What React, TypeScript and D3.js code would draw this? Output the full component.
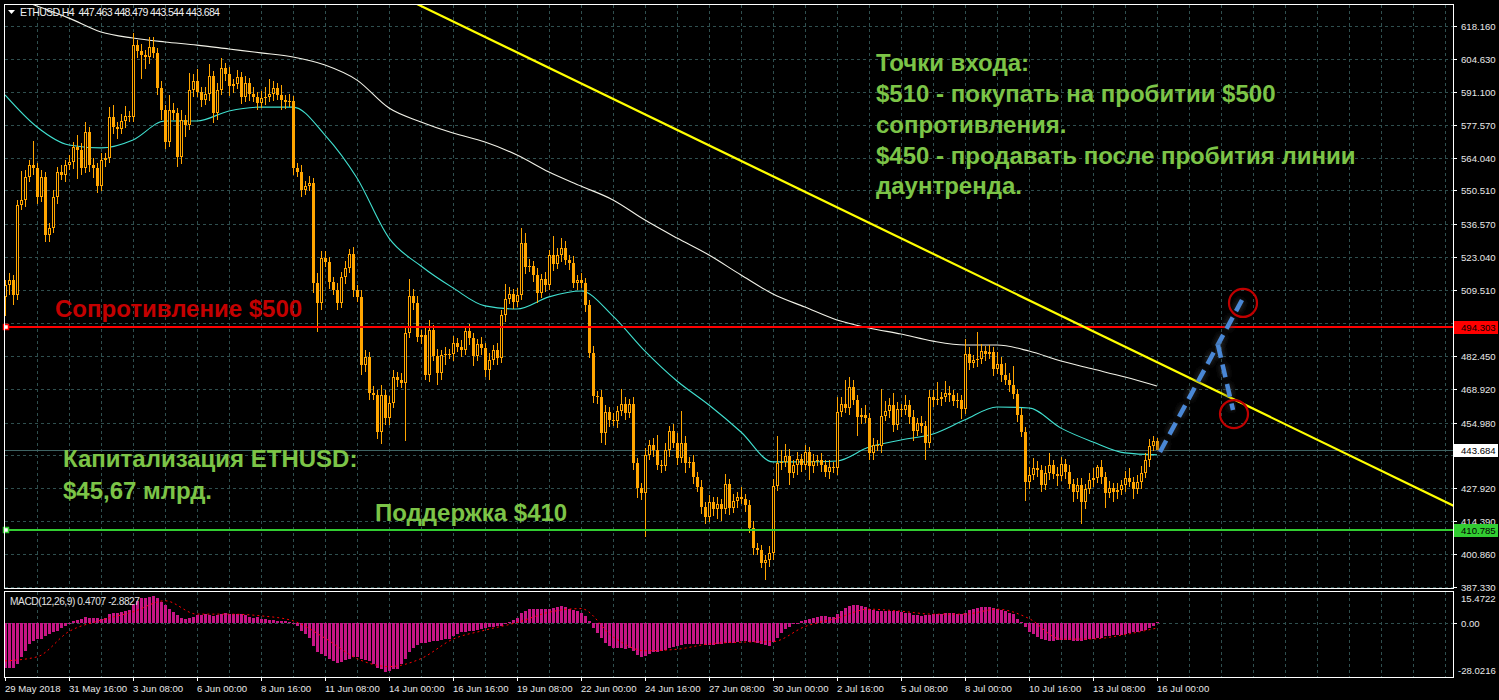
import React from "react";
import * as d3 from "d3";

const W = 1499;
const H = 700;

// ---------- DATA ----------
const firstOpen = 506.7;
const closes = [
  511.6, 513.7, 507.5, 544.5, 546.6, 556.0, 561.0, 559.7, 547.8, 556.0,
  532.2, 535.1, 547.8, 558.1, 556.9, 561.0, 562.2, 568.4, 567.1, 559.7,
  574.6, 561.0, 559.7, 552.3, 563.0, 563.9, 580.7, 576.6, 575.8, 579.1,
  581.1, 580.7, 610.3, 607.9, 606.2, 605.4, 609.5, 607.1, 592.6, 583.6,
  570.4, 583.6, 582.4, 564.3, 579.5, 577.4, 591.8, 595.5, 591.0, 587.7,
  590.2, 597.6, 582.4, 591.8, 600.9, 598.4, 593.5, 594.3, 597.2, 589.0,
  594.7, 590.2, 589.0, 586.5, 588.5, 589.0, 590.2, 592.6, 589.8, 587.7,
  586.9, 587.3, 559.7, 558.1, 550.7, 552.3, 553.6, 512.4, 504.2, 522.7,
  521.1, 512.8, 509.5, 504.2, 514.9, 518.6, 524.4, 509.5, 506.7, 478.7,
  482.0, 467.2, 466.3, 451.1, 466.3, 456.9, 463.1, 473.7, 472.5, 471.3,
  491.9, 507.1, 504.2, 490.2, 491.0, 474.6, 493.1, 482.4, 475.4, 482.8,
  483.2, 483.2, 487.7, 486.1, 484.9, 492.7, 489.8, 482.4, 487.3, 485.7,
  476.6, 480.7, 484.9, 481.6, 499.3, 505.8, 507.9, 504.6, 507.5, 528.9,
  519.0, 519.4, 515.7, 508.3, 514.1, 511.6, 523.9, 520.2, 523.9, 526.8,
  521.9, 520.6, 512.4, 513.7, 512.4, 503.4, 483.6, 465.9, 465.5, 450.7,
  459.4, 456.1, 455.7, 459.8, 462.7, 458.9, 462.7, 438.4, 428.1, 426.0,
  441.7, 445.8, 443.7, 437.6, 437.2, 443.7, 451.5, 446.6, 440.4, 446.6,
  438.4, 438.8, 432.6, 428.5, 420.3, 416.2, 422.3, 419.5, 421.5, 419.5,
  429.7, 419.9, 422.8, 424.4, 423.6, 421.1, 411.6, 403.4, 402.6, 397.2,
  398.5, 401.4, 428.9, 438.4, 438.8, 441.3, 434.3, 437.6, 440.0, 437.6,
  442.9, 437.2, 439.2, 439.6, 437.6, 434.7, 436.7, 436.3, 459.4, 462.7,
  461.0, 469.6, 464.3, 457.3, 458.1, 456.9, 442.5, 445.8, 445.4, 457.7,
  459.8, 462.2, 454.0, 460.6, 460.2, 462.2, 457.3, 451.5, 454.8, 453.6,
  446.6, 465.5, 464.3, 464.7, 465.5, 467.2, 466.3, 463.9, 464.3, 460.6,
  483.2, 479.5, 480.7, 481.2, 484.4, 483.2, 484.0, 477.0, 479.1, 474.6,
  472.5, 470.4, 466.8, 458.1, 451.1, 430.6, 433.5, 436.3, 435.5, 429.3,
  434.3, 437.6, 433.9, 433.0, 438.0, 434.7, 429.7, 426.5, 429.3, 422.3,
  427.7, 431.4, 432.2, 436.7, 432.6, 426.0, 428.1, 426.5, 427.3, 429.3,
  432.2, 430.6, 427.7, 430.6, 434.3, 439.6, 445.4, 447.463, 443.684,
];
const wickUp = [
  2, 3, 2, 2, 12, 3, 2, 10, 2, 3,
  2, 2, 3, 2, 3, 2, 3, 2, 5, 3,
  4, 2, 3, 2, 3, 2, 4, 5, 2, 3,
  4, 2, 5, 2, 3, 2, 4, 4, 2, 3,
  2, 6, 3, 2, 4, 2, 7, 3, 5, 2,
  3, 5, 2, 3, 4, 2, 3, 2, 3, 2,
  3, 2, 3, 2, 3, 4, 6, 3, 2, 4,
  2, 3, 2, 2, 3, 2, 3, 2, 4, 3,
  3, 2, 2, 3, 2, 3, 2, 3, 2, 3,
  3, 2, 3, 2, 4, 2, 3, 3, 2, 3,
  2, 7, 3, 3, 2, 3, 4, 2, 3, 2,
  3, 2, 3, 2, 3, 2, 3, 2, 2, 3,
  2, 3, 2, 3, 2, 6, 3, 2, 3, 6,
  4, 3, 2, 3, 2, 3, 2, 8, 3, 4,
  3, 2, 3, 2, 3, 2, 2, 3, 2, 3,
  3, 2, 3, 2, 6, 3, 2, 3, 2, 2,
  3, 2, 3, 6, 2, 3, 2, 3, 4, 13,
  3, 2, 3, 2, 3, 2, 3, 2, 3, 2,
  4, 2, 3, 2, 4, 2, 2, 3, 2, 2,
  2, 3, 3, 11, 5, 5, 3, 2, 3, 2,
  3, 2, 3, 2, 3, 2, 3, 2, 6, 3,
  10, 4, 3, 2, 3, 4, 2, 3, 2, 11,
  4, 3, 5, 3, 2, 4, 2, 3, 2, 3,
  2, 3, 3, 7, 2, 5, 3, 2, 3, 2,
  6, 3, 2, 11, 3, 2, 3, 2, 5, 3,
  5, 3, 8, 2, 3, 2, 3, 4, 3, 2,
  3, 5, 2, 3, 3, 2, 3, 2, 3, 3,
  2, 3, 4, 1, 3, 2, 3, 2, 3, 2,
  3, 4, 2, 3, 3, 3, 3, 2, 1.016,
];
const wickDn = [
  8, 4, 4, 2, 2, 3, 2, 3, 3, 2,
  3, 3, 2, 3, 2, 3, 2, 3, 12, 3,
  2, 3, 4, 3, 2, 3, 2, 3, 4, 2,
  3, 2, 2, 3, 10, 5, 3, 2, 3, 4,
  3, 2, 3, 4, 3, 5, 2, 3, 2, 3,
  2, 3, 4, 3, 2, 3, 4, 3, 2, 3,
  2, 3, 2, 3, 2, 3, 2, 3, 2, 4,
  3, 2, 3, 2, 3, 2, 2, 4, 12, 3,
  2, 3, 2, 3, 2, 3, 2, 3, 2, 4,
  3, 3, 2, 3, 5, 3, 3, 2, 3, 2,
  24, 2, 3, 2, 3, 2, 3, 2, 5, 3,
  4, 2, 3, 2, 3, 2, 3, 4, 2, 3,
  3, 4, 2, 3, 2, 3, 2, 3, 2, 2,
  3, 2, 3, 4, 2, 3, 2, 3, 2, 3,
  2, 3, 2, 3, 2, 3, 2, 3, 3, 4,
  5, 3, 2, 3, 2, 3, 2, 3, 4, 3,
  18, 2, 3, 2, 3, 2, 3, 2, 3, 2,
  4, 2, 3, 2, 3, 3, 2, 3, 4, 5,
  2, 3, 2, 3, 2, 3, 2, 3, 2, 2,
  7, 3, 3, 2, 3, 2, 5, 2, 4, 3,
  2, 6, 3, 2, 3, 2, 3, 2, 3, 2,
  2, 3, 2, 8, 3, 2, 3, 3, 2, 3,
  2, 3, 3, 2, 3, 2, 3, 4, 2, 3,
  7, 2, 3, 2, 3, 2, 3, 2, 3, 4,
  2, 3, 2, 3, 2, 3, 2, 3, 2, 3,
  2, 3, 2, 3, 2, 8, 3, 2, 3, 3,
  2, 3, 2, 4, 2, 3, 2, 4, 3, 9,
  3, 2, 3, 2, 3, 6, 2, 4, 3, 2,
  3, 2, 4, 2, 3, 2, 3, 2, 0.14,
];
const macdHist = [
  -23.9, -23.9, -23.9, -21.8, -18.3, -14.8, -11.4, -9.6, -8.7, -8.4,
  -7.0, -6.1, -5.2, -4.4, -3.1, -1.7, -0.5, 0.9, 1.4, 1.7,
  3.1, 2.6, 2.6, 2.6, 2.1, 2.6, 4.4, 4.9, 5.2, 5.6,
  6.1, 6.6, 9.6, 11.4, 12.6, 13.1, 13.6, 14.0, 12.6, 10.8,
  9.1, 7.3, 5.6, 3.8, 2.6, 2.1, 2.6, 3.1, 3.8, 3.8,
  4.4, 3.8, 3.5, 3.8, 4.4, 4.9, 4.4, 4.4, 4.4, 4.4,
  3.8, 3.1, 2.6, 3.1, 2.1, 1.7, 1.4, 1.4, 1.0, 0.9,
  0.7, 0.5, -0.3, -1.7, -4.4, -6.1, -7.9, -12.2, -15.7, -16.6,
  -17.5, -19.2, -20.1, -21.0, -20.6, -19.6, -18.9, -18.3, -18.3, -19.2,
  -19.6, -20.1, -21.8, -23.6, -24.5, -25.9, -25.3, -24.5, -24.1, -21.8,
  -19.2, -15.7, -13.6, -11.9, -10.8, -10.5, -10.1, -9.6, -9.6, -9.1,
  -8.7, -8.4, -7.0, -6.1, -5.2, -4.9, -4.5, -4.2, -3.8, -3.5,
  -3.1, -2.6, -2.1, -1.7, -1.7, -0.9, 0.3, 1.4, 2.6, 4.9,
  5.9, 7.0, 7.3, 7.3, 7.0, 7.0, 7.3, 7.5, 7.9, 8.4,
  8.0, 7.3, 6.6, 5.9, 5.2, 3.5, 1.0, -3.1, -5.6, -8.2,
  -10.5, -12.2, -13.3, -13.6, -13.6, -14.0, -13.3, -14.7, -16.8, -18.0,
  -17.5, -16.6, -15.7, -15.4, -14.8, -14.2, -13.5, -12.8, -12.2, -11.7,
  -11.4, -11.2, -11.0, -11.0, -11.4, -11.7, -11.9, -11.7, -11.4, -11.0,
  -10.8, -10.7, -10.5, -10.1, -9.8, -9.6, -10.0, -10.3, -10.7, -11.2,
  -11.9, -12.2, -10.1, -7.9, -5.6, -3.5, -2.1, -1.0, 0.0, 0.7,
  1.4, 2.1, 2.6, 3.1, 3.5, 3.3, 3.0, 3.1, 4.4, 5.9,
  7.5, 8.7, 9.1, 9.1, 8.7, 8.0, 7.3, 6.6, 6.1, 6.1,
  6.1, 5.9, 5.8, 5.8, 5.6, 5.2, 4.9, 4.2, 3.8, 3.5,
  3.7, 4.2, 4.5, 4.7, 4.7, 4.9, 4.9, 4.9, 4.7, 4.4,
  5.2, 6.5, 7.0, 7.5, 7.9, 7.9, 7.9, 7.7, 7.3, 6.6,
  6.1, 5.2, 4.4, 2.1, 0.3, -2.3, -4.9, -6.1, -7.5, -8.4,
  -9.3, -9.6, -9.6, -9.3, -9.1, -9.1, -9.3, -9.6, -9.6, -9.6,
  -9.3, -8.7, -8.4, -8.2, -7.9, -7.3, -7.0, -6.6, -6.6, -6.3,
  -5.8, -5.6, -5.2, -4.9, -4.4, -3.8, -3.1, -1.7, 0.4707,
];
// indicator lines, read every 8th bar (bars 0, 8, 16, ... 288)
const sampleStep = 8;
const macdSignal = [
  -20.1, -18.0, -4.7, 1.2, 5.6, 11.4, 4.4, 4.4, 3.5, 0.9,
  -8.2, -18.9, -23.1, -18.9, -8.7, -4.0, 0.0, 5.4, 7.3, -7.5,
  -14.8, -14.0, -11.2, -10.3, -10.0, -2.1, 2.3, 7.0, 5.9, 4.4,
  4.4, 7.0, 2.1, -8.7, -8.6, -6.3, -2.8827,
];
const maFast = [
  589.8, 576.6, 569.2, 568.0, 571.3, 579.1, 579.1, 583.2, 584.8, 584.8,
  573.3, 555.6, 530.9, 519.4, 510.4, 503.0, 501.7, 506.7, 509.1, 498.8,
  484.4, 472.1, 462.2, 451.1, 438.8, 438.8, 439.2, 444.9, 447.8, 450.3,
  456.1, 461.4, 461.0, 452.7, 447.0, 442.5, 441.7,
];
const maSlow = [
  630.9, 626.4, 621.4, 615.7, 613.2, 611.6, 610.3, 608.7, 607.1, 605.4,
  602.1, 595.9, 584.4, 578.7, 574.1, 570.4, 565.1, 558.1, 552.3, 546.6,
  538.3, 530.9, 523.9, 515.7, 507.9, 502.5, 497.2, 493.9, 491.4, 488.5,
  486.9, 486.9, 484.4, 480.3, 477.0, 473.7, 470.0,
];
const priceTicks = [
  618.16, 604.63, 591.1, 577.57, 564.04, 550.51, 536.57, 523.04, 509.51,
  495.98, 482.45, 468.92, 454.98, 441.45, 427.92, 414.39, 400.86, 387.33,
];
// tick levels whose labels are covered by the price boxes
const coveredTicks = [495.98, 441.45];
const labelStep = 16;
const timeLabels = [
  "29 May 2018", "31 May 16:00", "3 Jun 08:00", "6 Jun 00:00", "8 Jun 16:00",
  "11 Jun 08:00", "14 Jun 00:00", "16 Jun 16:00", "19 Jun 08:00", "22 Jun 00:00",
  "24 Jun 16:00", "27 Jun 08:00", "30 Jun 00:00", "2 Jul 16:00", "5 Jul 08:00",
  "8 Jul 00:00", "10 Jul 16:00", "13 Jul 08:00", "16 Jul 00:00",
];
const resistance = 494.303;
const support = 410.785;
const lastPrice = 443.684;
const trendAnchors = [
  { bar: 103, price: 627.2 },
  { bar: 362, price: 420.9 },
];
const forecastUp = [
  { bar: 288.75, price: 442.9 },
  { bar: 309.25, price: 505.4 },
];
const forecastDown = [
  { bar: 303.25, price: 486.9 },
  { bar: 307, price: 460.2 },
];
const targetCircles = [
  { bar: 309.5, price: 504.2 },
  { bar: 307.25, price: 458.5 },
];
const annotations = [
  { text: "Точки входа:", bar: 217.75, price: 599.6, color: "#7cc447" },
  { text: "$510 - покупать на пробитии $500", bar: 217.75, price: 586.9, color: "#7cc447" },
  { text: "сопротивления.", bar: 217.75, price: 574.1, color: "#7cc447" },
  { text: "$450 - продавать после пробития линии", bar: 217.75, price: 561.4, color: "#7cc447" },
  { text: "даунтренда.", bar: 217.75, price: 549.0, color: "#7cc447" },
  { text: "Сопротивление $500", bar: 12.5, price: 498.4, color: "#c40000" },
  { text: "Капитализация ETHUSD:", bar: 14.5, price: 436.9, color: "#7cc447" },
  { text: "$45,67 млрд.", bar: 14.5, price: 423.7, color: "#7cc447" },
  { text: "Поддержка $410", bar: 92.5, price: 414.3, color: "#7cc447" },
];
const header = "ETHUSD,H4\u00a0\u00a0447.463 448.479 443.544 443.684";
const macdTitle = "MACD(12,26,9) 0.4707 -2.8827";

// ---------- LAYOUT ----------
const PL = 5, PR = 1453, PT = 5, PB = 588;
const MT = 592, MB = 677;
const ORANGE = "#ffa500";
const GRID = "#2f4f4f";
const FONT = "'Liberation Sans', Arial, sans-serif";

export default function App() {
  const x = d3.scaleLinear().domain([0, 288]).range([5, 1157]);
  const y = d3.scaleLinear().domain([387.33, 618.16]).range([587, 26]);
  const ym = d3.scaleLinear().domain([-28.0216, 15.4722]).range([676, 593]);

  const candles = closes.map((c, i) => {
    const o = i === 0 ? firstOpen : closes[i - 1];
    const h = Math.max(o, c) + wickUp[i];
    const l = Math.min(o, c) - wickDn[i];
    return { i, o, c, h, l };
  });

  const sampleBars = macdSignal.map((_, k) => k * sampleStep);
  const lineGen = (vals: number[], ys: d3.ScaleLinear<number, number>) =>
    d3
      .line<number>()
      .x((_, k) => x(sampleBars[k]))
      .y((v) => ys(v))
      .curve(d3.curveMonotoneX)(vals) || "";

  const vGridBars = d3.range(8, 400, 8).filter((b) => x(b) < PR);
  const trendPrice = (b: number) =>
    trendAnchors[0].price +
    ((b - trendAnchors[0].bar) * (trendAnchors[1].price - trendAnchors[0].price)) /
      (trendAnchors[1].bar - trendAnchors[0].bar);

  const hy = (p: number) => Math.round(y(p)) + 0.5;

  return (
    <div style={{ position: "absolute", left: 0, top: 0, width: W, height: H, background: "#000" }}>
      <svg width={W} height={H} style={{ display: "block", background: "#000" }}>
        <defs>
          <clipPath id="plotClip">
            <rect x={PL} y={PT} width={PR - PL} height={PB - PT} />
          </clipPath>
          <clipPath id="macdClip">
            <rect x={PL} y={MT} width={PR - PL} height={MB - MT} />
          </clipPath>
          <filter id="soft" x="-20%" y="-20%" width="140%" height="140%">
            <feGaussianBlur stdDeviation="2.5" />
          </filter>
        </defs>

        {/* grid */}
        <g shapeRendering="crispEdges">
          {priceTicks.map((p) => (
            <line key={"h" + p} x1={PL} x2={PR} y1={hy(p)} y2={hy(p)} stroke={GRID} strokeDasharray="3,3" />
          ))}
          {vGridBars.map((b) => (
            <line key={"v" + b} x1={x(b) + 0.5} x2={x(b) + 0.5} y1={PT} y2={PB} stroke={GRID} strokeDasharray="3,3" />
          ))}
          {vGridBars.map((b) => (
            <line key={"vm" + b} x1={x(b) + 0.5} x2={x(b) + 0.5} y1={MT} y2={MB} stroke={GRID} strokeDasharray="3,3" />
          ))}
          <line x1={PL} x2={PR} y1={Math.round(ym(0)) + 0.5} y2={Math.round(ym(0)) + 0.5} stroke={GRID} strokeDasharray="3,3" />
        </g>

        <g clipPath="url(#plotClip)">
          {/* bid line */}
          <line x1={PL} x2={PR} y1={hy(lastPrice)} y2={hy(lastPrice)} stroke="#3f6464" shapeRendering="crispEdges" />

          {/* moving averages */}
          <path d={lineGen(maSlow, y)} fill="none" stroke="#f2f2e8" strokeWidth={1.1} />
          <path d={lineGen(maFast, y)} fill="none" stroke="#40e0d0" strokeWidth={1.1} />

          {/* candles */}
          <g shapeRendering="crispEdges">
            {candles.map((d) => {
              const cx = Math.round(x(d.i));
              const top = Math.round(y(Math.max(d.o, d.c)));
              const bot = Math.round(y(Math.min(d.o, d.c)));
              const hgt = Math.max(1, bot - top);
              const bull = d.c > d.o;
              return (
                <g key={d.i}>
                  <rect x={cx} width={1} y={Math.round(y(d.h))} height={Math.max(1, Math.round(y(d.l)) - Math.round(y(d.h)))} fill={ORANGE} />
                  <rect x={cx - 1} width={3} y={top} height={hgt} fill={ORANGE} />
                  {bull && hgt > 2 && <rect x={cx} width={1} y={top + 1} height={hgt - 2} fill="#000" />}
                </g>
              );
            })}
          </g>

          {/* resistance / support */}
          <line x1={PL} x2={PR} y1={y(resistance)} y2={y(resistance)} stroke="#ff0000" strokeWidth={2} />
          <line x1={PL} x2={PR} y1={y(support)} y2={y(support)} stroke="#32cd32" strokeWidth={2} />

          {/* downtrend line */}
          <line
            x1={x(90)}
            y1={y(trendPrice(90))}
            x2={x(370)}
            y2={y(trendPrice(370))}
            stroke="#ffff00"
            strokeWidth={2.2}
          />

          {/* forecast arrows */}
          {[forecastUp, forecastDown].map((seg, k) => (
            <g key={"f" + k}>
              <line
                x1={x(seg[0].bar)} y1={y(seg[0].price)} x2={x(seg[1].bar)} y2={y(seg[1].price)}
                stroke="#333" strokeWidth={9} strokeOpacity={0.6} strokeDasharray="13,7" filter="url(#soft)"
              />
              <line
                x1={x(seg[0].bar)} y1={y(seg[0].price)} x2={x(seg[1].bar)} y2={y(seg[1].price)}
                stroke="#4a88d6" strokeWidth={4.5} strokeDasharray="13,7"
              />
            </g>
          ))}
          {targetCircles.map((c, k) => (
            <circle key={"c" + k} cx={x(c.bar)} cy={y(c.price)} r={14} fill="none" stroke="#c00000" strokeWidth={2.2} />
          ))}

          {/* annotations */}
          {annotations.map((a, k) => (
            <text key={"a" + k} x={x(a.bar)} y={y(a.price)} fill={a.color} fontFamily={FONT} fontWeight="bold" fontSize={24}>
              {a.text}
            </text>
          ))}
        </g>

        {/* line anchors at left */}
        <rect x={PL - 1.5} y={y(resistance) - 2.5} width={5} height={5} fill="#fff" stroke="#ff0000" strokeWidth={1.5} />
        <rect x={PL - 1.5} y={y(support) - 2.5} width={5} height={5} fill="#fff" stroke="#32cd32" strokeWidth={1.5} />

        {/* MACD */}
        <g clipPath="url(#macdClip)" shapeRendering="crispEdges">
          {macdHist.map((v, i) => {
            const cx = Math.round(x(i));
            const y0 = Math.round(ym(0));
            const yv = Math.round(ym(v));
            return <rect key={"m" + i} x={cx - 1} width={3} y={Math.min(y0, yv)} height={Math.max(1, Math.abs(yv - y0))} fill="#c71585" />;
          })}
        </g>
        <path d={lineGen(macdSignal, ym)} fill="none" stroke="#ff0000" strokeWidth={1} strokeDasharray="2,3" clipPath="url(#macdClip)" />

        {/* frames */}
        <g fill="none" stroke="#ffffff" shapeRendering="crispEdges">
          <rect x={PL - 0.5} y={PT - 0.5} width={PR - PL + 1} height={PB - PT + 1} />
          <rect x={PL - 0.5} y={MT - 0.5} width={PR - PL + 1} height={MB - MT + 1} />
        </g>

        {/* price axis */}
        <g fontFamily={FONT} fontSize={9.6} fill="#e8e8e8">
          {priceTicks.map((p) => (
            <g key={"pt" + p}>
              <line x1={PR + 0.5} x2={PR + 4} y1={hy(p)} y2={hy(p)} stroke="#fff" shapeRendering="crispEdges" />
              {!coveredTicks.includes(p) && <text x={1461} y={hy(p) + 3.5}>{p.toFixed(3)}</text>}
            </g>
          ))}
          {[
            { p: resistance, bg: "#ff0000", fg: "#000" },
            { p: lastPrice, bg: "#ffffff", fg: "#000" },
            { p: support, bg: "#32cd32", fg: "#000" },
          ].map((b) => (
            <g key={"box" + b.p}>
              <rect x={PR + 1} y={Math.round(y(b.p)) - 6} width={W - PR - 2} height={13} fill={b.bg} />
              <text x={1461} y={Math.round(y(b.p)) + 4} fill={b.fg}>{b.p.toFixed(3)}</text>
            </g>
          ))}
          <text x={1461} y={602}>15.4722</text>
          <line x1={PR + 0.5} x2={PR + 4} y1={Math.round(ym(0)) + 0.5} y2={Math.round(ym(0)) + 0.5} stroke="#fff" />
          <text x={1461} y={Math.round(ym(0)) + 4}>0.00</text>
          <text x={1458} y={674}>-28.0216</text>
        </g>

        {/* time axis */}
        <g fontFamily={FONT} fontSize={9.6} fill="#e8e8e8">
          {timeLabels.map((t, k) => {
            const tx = Math.round(x(k * labelStep));
            return (
              <g key={"tl" + k}>
                <line x1={tx + 0.5} x2={tx + 0.5} y1={MB} y2={MB + 4} stroke="#fff" shapeRendering="crispEdges" />
                <text x={tx} y={692}>{t}</text>
              </g>
            );
          })}
        </g>

        {/* header & indicator title */}
        <path d="M8,10 L15,10 L11.5,14 Z" fill="#fff" />
        <text x={20} y={16} fontFamily={FONT} fontSize={10.6} fill="#f0f0f0" textLength={200} lengthAdjust="spacing">{header}</text>
        <text x={10} y={605} fontFamily={FONT} fontSize={10.2} fill="#e0e0e0" textLength={130} lengthAdjust="spacing">{macdTitle}</text>
      </svg>
    </div>
  );
}
